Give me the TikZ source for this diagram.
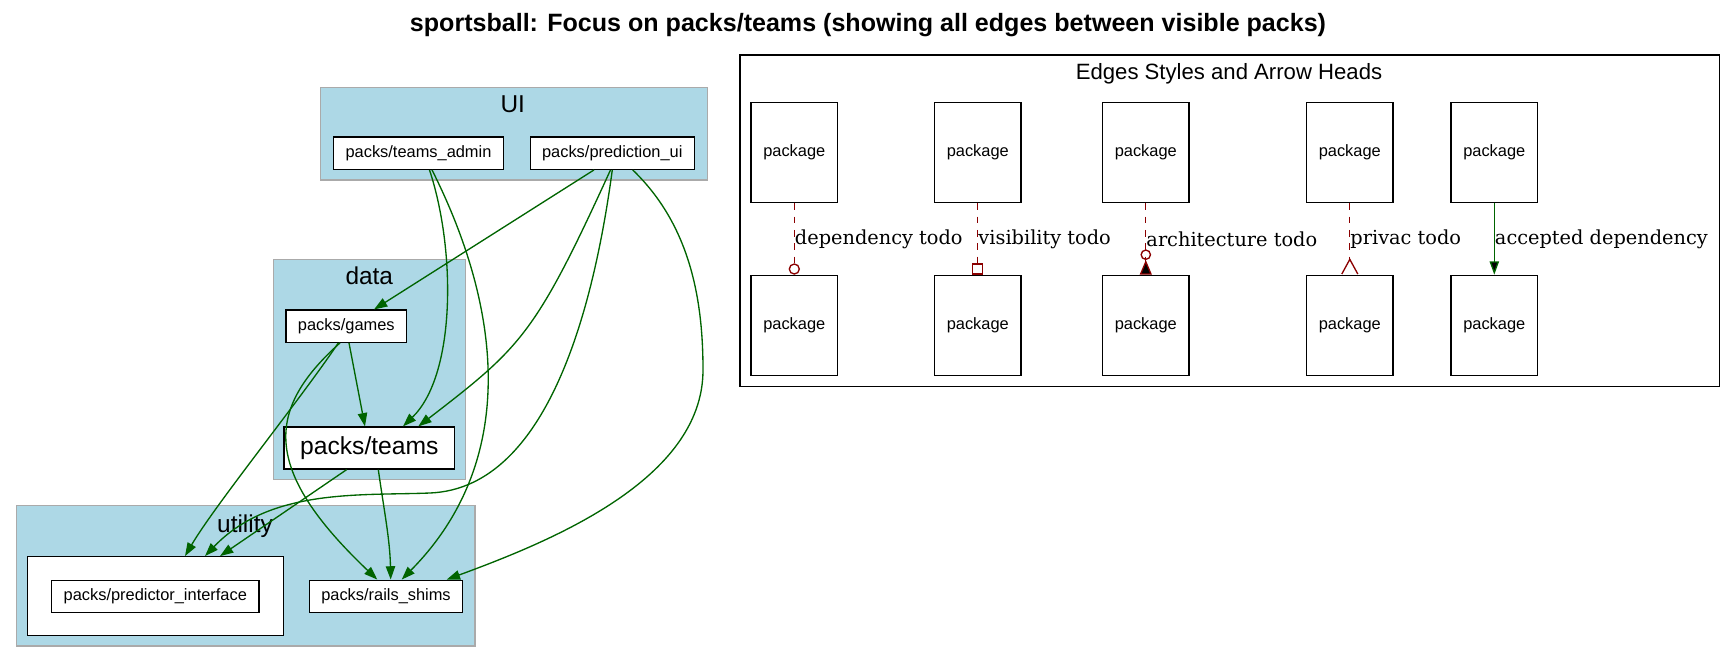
\documentclass[tikz,border=0pt]{standalone}
\usepackage{fontspec}
\setmainfont{Liberation Sans}
\newfontfamily\lblfont{DejaVu Serif}
\usetikzlibrary{arrows.meta}
\definecolor{clusterfill}{HTML}{ADD8E6}
\definecolor{clusterline}{HTML}{AAAAAA}
\definecolor{okgreen}{HTML}{006400}
\definecolor{todored}{HTML}{8B0000}

\tikzset{
  pack/.style={draw=black, fill=white, line width=0.9pt, inner xsep=9pt, minimum height=24.2pt,
    font=\fontsize{12.3}{14}\selectfont},
  legendpack/.style={pack, minimum width=64.9pt, minimum height=75.3pt},
  cluster/.style={draw=clusterline, fill=clusterfill, line width=1pt},
  clabel/.style={anchor=base, inner sep=0pt, font=\fontsize{18.3}{21}\selectfont},
  dep/.style={draw=okgreen, line width=1pt, -{Triangle[length=10pt,width=7pt]}},
  todo/.style={draw=todored, line width=1pt, dash pattern=on 5pt off 5pt},
  elabel/.style={anchor=west, inner sep=0pt, text=black, font=\lblfont\fontsize{14.5}{17}\selectfont},
}

\begin{document}
\begin{tikzpicture}[x=0.75pt,y=-0.75pt]
  \useasboundingbox (0,0) rectangle (1736,663);
  % Title
  \node[anchor=base, font=\bfseries\fontsize{18.8}{22}\selectfont] (title) at (868,31.7)
    {sportsball: Focus on packs/teams (showing all edges between visible packs)};
  % Clusters
  \draw[cluster] (320.7,87.3) rectangle (707.3,180);
  \node[clabel] (uiL) at (512.7,112.3) {UI};
  \draw[cluster] (273.3,259.3) rectangle (465.7,479.7);
  \node[clabel] (dataL) at (369.3,284.3) {data};
  \draw[cluster] (16.7,505.7) rectangle (475,646);
  \node[clabel] (utilL) at (245,532.3) {utility};
  % Nodes
  \node[pack] (admin) at (418.5,153.2) {packs/teams\_admin};
  \node[pack] (predui) at (612.3,153.2) {packs/prediction\_ui};
  \node[pack] (games) at (346.3,326.2) {packs/games};
  \node[pack, inner xsep=12pt, minimum height=31.5pt, font=\fontsize{18.5}{21}\selectfont]
    (teams) at (369.3,448) {packs/teams};
  \node[draw=black, fill=white, line width=0.9pt, minimum width=191.7pt, minimum height=59.25pt]
    (pibox) at (155.5,596.2) {};
  \node[pack] (predint) at (155.3,596.3) {packs/predictor\_interface};
  \node[pack] (shims) at (386,596.3) {packs/rails\_shims};
  % Arrows between packs
  \draw[dep] (429.5,0 |- admin.south) .. controls (456,250) and (456,375) .. (403,0 |- teams.north);
  \draw[dep] (432,0 |- admin.south) .. controls (500,305) and (521,459) .. (401.7,0 |- shims.north);
  \draw[dep] (594,0 |- predui.south) -- (374,0 |- games.north);
  \draw[dep] (610.5,0 |- predui.south) .. controls (535.4,334.4) and (521.4,347) .. (418.3,0 |- teams.north);
  \draw[dep] (612.3,0 |- predui.south) .. controls (596,291) and (553,488) .. (430,493)
    .. controls (360,495.8) and (270,488) .. (205,0 |- pibox.north);
  \draw[dep] (632.7,0 |- predui.south) .. controls (690,225) and (703,299) .. (703,370)
    .. controls (703,480) and (550,541.5) .. (446.7,0 |- shims.north);
  \draw[dep] (349,0 |- games.south) -- (365,0 |- teams.north);
  \draw[dep] (338.3,0 |- games.south) .. controls (300,400) and (215,505) .. (185,0 |- pibox.north);
  \draw[dep] (340,0 |- games.south) .. controls (265,410) and (262,470) .. (377.3,0 |- shims.north);
  \draw[dep] (346.7,0 |- teams.south) -- (220,0 |- pibox.north);
  \draw[dep] (378.3,0 |- teams.south) .. controls (384,510) and (390,540) .. (390.7,0 |- shims.north);
  % Legend
  \draw[black, line width=0.9pt] (740,55) rectangle (1719.3,386.7);
  \node[anchor=base, font=\fontsize{16.6}{19}\selectfont] (legendL) at (1229,79.3) {Edges Styles and Arrow Heads};
  \node[legendpack] (depT) at (794.3,152.5) {package};
  \node[legendpack] (depB) at (794.3,325.5) {package};
  \node[legendpack] (visT) at (977.8,152.5) {package};
  \node[legendpack] (visB) at (977.8,325.5) {package};
  \node[legendpack] (archT) at (1145.8,152.5) {package};
  \node[legendpack] (archB) at (1145.8,325.5) {package};
  \node[legendpack] (privT) at (1349.8,152.5) {package};
  \node[legendpack] (privB) at (1349.8,325.5) {package};
  \node[legendpack] (okT) at (1494.3,152.5) {package};
  \node[legendpack] (okB) at (1494.3,325.5) {package};
  % Legend arrows with labels
  \path[todo, -{Circle[open,length=8.5pt,width=8.5pt]}] (depT) edge node[elabel]{dependency todo} (depB);
  \path[todo, -{Square[open,length=8.5pt,width=8.5pt]}] (visT) edge node[elabel]{visibility todo} (visB);
  \path[todo, -{Circle[open,length=8pt,width=8pt] Triangle[reversed,length=11pt,width=9pt]}]
    (archT) edge node[elabel]{architecture todo} (archB);
  \path[todo, -{Straight Barb[reversed,length=11pt,width=12pt]}] (privT) edge node[elabel]{privac todo} (privB);
  \path[dep] (okT) edge node[elabel]{accepted dependency} (okB);
\end{tikzpicture}
\end{document}
